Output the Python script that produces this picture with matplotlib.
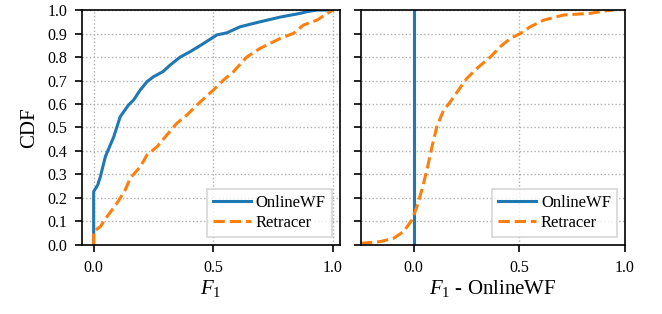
import matplotlib
matplotlib.use("Agg")
import matplotlib.pyplot as plt

# fonts: serif look, math in matching serif
plt.rcParams["font.family"] = ["Liberation Serif", "DejaVu Serif"]
plt.rcParams["mathtext.fontset"] = "custom"
plt.rcParams["mathtext.it"] = "Liberation Serif:italic"
plt.rcParams["mathtext.rm"] = "Liberation Serif"

# left panel: CDF of F1
onlinewf_f1_x = [0.0, 0.0, 0.017, 0.028, 0.049, 0.084, 0.111, 0.146, 0.167, 0.195,
                 0.223, 0.25, 0.29, 0.32, 0.362, 0.404, 0.46, 0.515, 0.557, 0.613,
                 0.696, 0.78, 0.864, 0.891, 0.933, 1.0]
onlinewf_f1_y = [0.0, 0.227, 0.255, 0.29, 0.376, 0.46, 0.546, 0.596, 0.617, 0.66,
                 0.695, 0.716, 0.738, 0.766, 0.80, 0.823, 0.858, 0.894, 0.903, 0.929,
                 0.95, 0.97, 0.986, 0.993, 1.0, 1.0]

retracer_f1_x = [0.0, 0.0, 0.028, 0.056, 0.097, 0.132, 0.153, 0.195, 0.223, 0.265,
                 0.306, 0.348, 0.39, 0.432, 0.501, 0.543, 0.585, 0.64, 0.696, 0.78,
                 0.836, 0.877, 0.933, 1.0]
retracer_f1_y = [0.0, 0.057, 0.078, 0.12, 0.177, 0.234, 0.284, 0.333, 0.383, 0.418,
                 0.468, 0.518, 0.553, 0.596, 0.66, 0.702, 0.738, 0.80, 0.837, 0.879,
                 0.901, 0.936, 0.957, 1.0]

# right panel: CDF of F1 difference to OnlineWF
onlinewf_diff_x = [0.0, 0.0]
onlinewf_diff_y = [0.0, 1.0]

retracer_diff_x = [-0.249, -0.158, -0.095, -0.047, -0.008, 0.016, 0.039, 0.063, 0.087,
                   0.11, 0.142, 0.174, 0.213, 0.252, 0.3, 0.363, 0.41, 0.457, 0.505,
                   0.552, 0.615, 0.71, 0.836, 0.9, 0.946]
retracer_diff_y = [0.007, 0.014, 0.028, 0.057, 0.106, 0.163, 0.234, 0.319, 0.418,
                   0.504, 0.574, 0.61, 0.66, 0.709, 0.752, 0.80, 0.844, 0.879, 0.90,
                   0.929, 0.957, 0.979, 0.986, 0.996, 1.0]

y_ticks = [i / 10 for i in range(11)]
x_ticks = [0.0, 0.5, 1.0]

fig = plt.figure(figsize=(6.62, 3.14), dpi=100)
ax1 = fig.add_axes([0.1234, 0.22, 0.3902, 0.748])
ax2 = fig.add_axes([0.5449, 0.22, 0.3993, 0.748], sharey=ax1)

ax1.plot(onlinewf_f1_x, onlinewf_f1_y, color="#1f77b4", lw=2.2, label="OnlineWF")
ax1.plot(retracer_f1_x, retracer_f1_y, color="#ff7f0e", lw=2.2, ls="--", label="Retracer")
ax2.plot(onlinewf_diff_x, onlinewf_diff_y, color="#1f77b4", lw=2.2, label="OnlineWF")
ax2.plot(retracer_diff_x, retracer_diff_y, color="#ff7f0e", lw=2.2, ls="--", label="Retracer")

ax1.set_xlim(-0.05, 1.03)
ax2.set_xlim(-0.25, 1.0)
ax1.set_ylim(0, 1)

for ax in (ax1, ax2):
    ax.set_xticks(x_ticks)
    ax.set_yticks(y_ticks)
    ax.grid(True, ls=":", color="#b0b0b0", lw=1)
    ax.tick_params(labelsize=11.5, width=1.2, length=5, pad=5.5)
    for s in ax.spines.values():
        s.set_linewidth(1.2)
    leg = ax.legend(loc="lower right", fontsize=12, fancybox=False,
                    borderaxespad=0.5, handlelength=2.3, handletextpad=0.3,
                    borderpad=0.35, labelspacing=0.25)
    leg.get_frame().set_linewidth(1.2)

ax2.tick_params(labelleft=False)
ax1.set_ylabel("CDF", fontsize=15, labelpad=6)
ax1.set_xlabel("$F_1$", fontsize=15, labelpad=2)
ax2.set_xlabel("$F_1$ - OnlineWF", fontsize=15, labelpad=2)

fig.savefig("out.png", dpi=100)
